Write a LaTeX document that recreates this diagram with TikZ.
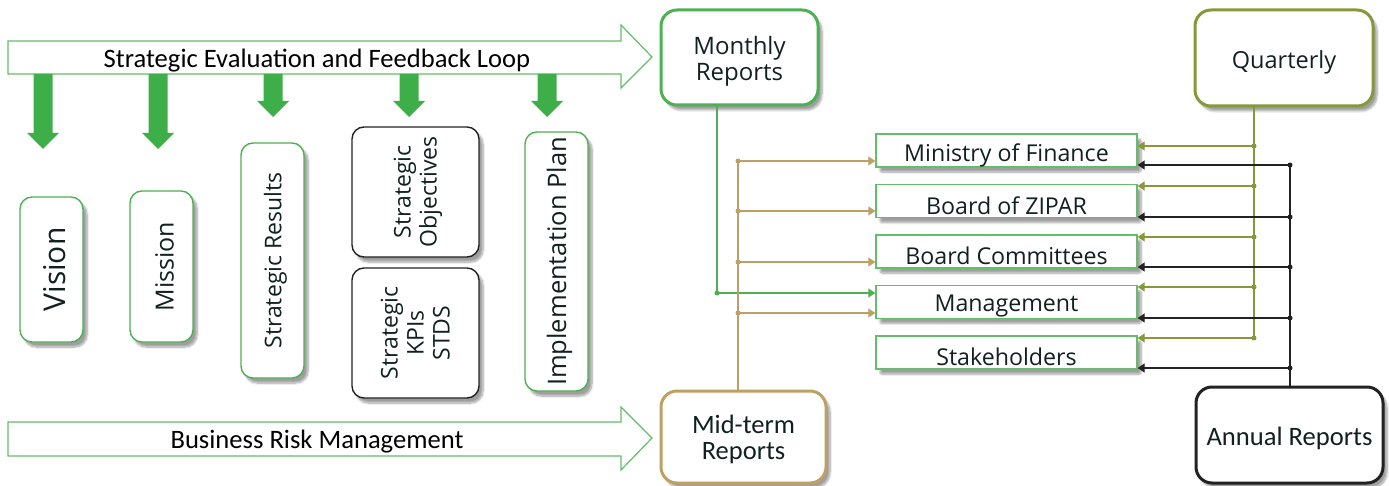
\documentclass[tikz,border=0pt]{standalone}
\usepackage{fontspec}
\setmainfont{Open Sans}
\newfontfamily\calfont{Carlito}
\usetikzlibrary{arrows.meta,shadows.blur}

\definecolor{boxgreen}{HTML}{4DB052}
\definecolor{lightgreen}{HTML}{62BE68}
\definecolor{arrgreen}{HTML}{3EAE49}
\definecolor{tanc}{HTML}{BFA064}
\definecolor{olivec}{HTML}{86993A}
\definecolor{inkc}{HTML}{222222}
\definecolor{textc}{HTML}{122020}

% shift a label down without changing the size it reports
\newcommand\dropby[2]{\raisebox{-#1}[\height][\depth]{#2}}
\newcommand\uplabel[1]{\rotatebox{90}{\dropby{3pt}{#1}}}

\tikzset{
  shade/.style={blur shadow={shadow xshift=4pt, shadow yshift=-5pt,
      shadow blur steps=8, shadow opacity=38, shadow blur extra rounding=2pt}},
  vbox/.style={draw=boxgreen, line width=1.4pt, fill=white, rounded corners=12pt,
      inner sep=0pt, text=textc, shade, font=\fontsize{23}{26}\selectfont},
  kbox/.style={vbox, draw=inkc},
  bigbox/.style={line width=3pt, fill=white, rounded corners=16pt, inner sep=0pt,
      text=textc, shade, font=\fontsize{23.5}{26}\selectfont},
  tbox/.style={draw=lightgreen, line width=1.4pt, fill=white, inner sep=0pt,
      minimum width=261pt, minimum height=33pt, text=textc, shade,
      font=\fontsize{23.2}{25}\selectfont},
  band/.style={draw=lightgreen, line width=1.2pt, fill=white},
  bandtext/.style={inner sep=0pt, text=black, font=\calfont\fontsize{26.6}{28}\selectfont},
  link/.style={line width=1.4pt},
  tip/.style={-{Triangle[length=7pt,width=9pt]}},
  dot/.style={circle, inner sep=0pt, minimum size=5pt},
}

\begin{document}
\begin{tikzpicture}[x=1pt,y=-1pt]
\useasboundingbox (0,0) rectangle (1389,486);

% two wide hollow arrows
\draw[band] (8,41) -- (621,41) -- (621,25) -- (652,57) -- (621,88) -- (621,74) -- (8,74) -- cycle;
\node[bandtext] (loop) at (317,58) {\dropby{3pt}{Strategic Evaluation and Feedback Loop}};
\draw[band] (8,422) -- (621,422) -- (621,407) -- (652,438) -- (621,470) -- (621,456) -- (8,456) -- cycle;
\node[bandtext] (risk) at (317,440) {\dropby{1.5pt}{Business Risk Management}};

% solid arrows pointing down from the feedback loop
\foreach \x/\t in {43/149,158/149,273/117,409/117,547/117}
  \fill[arrgreen] (\x-9.5,74) -- (\x+9.5,74) -- (\x+9.5,\t-16) -- (\x+16,\t-16)
     -- (\x,\t) -- (\x-16,\t-16) -- (\x-9.5,\t-16) -- cycle;

% strategy elements
\node[vbox, minimum width=63pt, minimum height=145pt, font=\fontsize{30}{32}\selectfont]
  (vision) at (51.5,269.5) {\uplabel{Vision}};
\node[vbox, minimum width=63pt, minimum height=151pt, font=\fontsize{25}{28}\selectfont]
  (mission) at (161.5,266.5) {\uplabel{Mission}};
\node[vbox, minimum width=63pt, minimum height=235pt]
  (results) at (272.5,260.5) {\uplabel{Strategic Results}};
\node[kbox, minimum width=127pt, minimum height=130pt]
  (objectives) at (415.5,192) {\uplabel{\begin{tabular}{@{}c@{}}Strategic\\Objectives\end{tabular}}};
\node[kbox, minimum width=127pt, minimum height=130pt]
  (kpis) at (415.5,333) {\uplabel{\begin{tabular}{@{}c@{}}Strategic\\KPIs\\STDS\end{tabular}}};
\node[vbox, minimum width=63pt, minimum height=259pt, font=\fontsize{25.5}{28}\selectfont]
  (plan) at (556.5,261.5) {\uplabel{Implementation Plan}};

% reporting cycles
\node[bigbox, draw=boxgreen, minimum width=157pt, minimum height=95pt, font=\fontsize{24}{26}\selectfont]
  (monthly) at (739.5,57.5) {\dropby{4.5pt}{\begin{tabular}{@{}c@{}}Monthly\\Reports\end{tabular}}};
\node[bigbox, draw=tanc, minimum width=165pt, minimum height=92pt, font=\calfont\fontsize{26.5}{26}\selectfont]
  (midterm) at (743.5,437) {\dropby{4pt}{\begin{tabular}{@{}c@{}}Mid-term\\Reports\end{tabular}}};
\node[bigbox, draw=olivec, minimum width=178pt, minimum height=96pt]
  (quarterly) at (1284,58) {\dropby{4.5pt}{Quarterly}};
\node[bigbox, draw=inkc, minimum width=187pt, minimum height=96pt, font=\calfont\fontsize{26.6}{27}\selectfont]
  (annual) at (1289.5,435) {\dropby{3pt}{Annual Reports}};

% audiences
\node[tbox] (mof)   at (1006.5,150.5) {\dropby{4.5pt}{Ministry of Finance}};
\node[tbox] (board) at (1006.5,201)   {\dropby{4.5pt}{Board of ZIPAR}};
\node[tbox] (comm)  at (1006.5,251.5) {\dropby{4.5pt}{Board Committees}};
\node[tbox] (mgmt)  at (1006.5,302)   {\dropby{4.5pt}{Management}};
\node[tbox] (stake) at (1006.5,352.5) {\dropby{4.5pt}{Stakeholders}};

% monthly reports go to management
\coordinate (g1) at (717,293);
\draw[link, boxgreen] (g1 |- monthly.south) -- (g1);
\draw[link, boxgreen, tip] (g1) -- (g1 -| mgmt.west);
\node[dot, fill=boxgreen] (gdot) at (g1) {};

% mid-term reports
\coordinate (t1) at (738,161);
\coordinate (t2) at (738,211);
\coordinate (t3) at (738,262);
\coordinate (t4) at (738,313);
\draw[link, tanc] (t1 |- midterm.north) -- (t1);
\foreach \c/\b in {t1/mof,t2/board,t3/comm,t4/mgmt}{
  \draw[link, tanc, tip] (\c) -- (\c -| \b.west);
  \node[dot, fill=tanc] at (\c) {};
}

% quarterly reports
\coordinate (q1) at (1254,146);
\coordinate (q2) at (1254,186);
\coordinate (q3) at (1254,237);
\coordinate (q4) at (1254,287);
\coordinate (q5) at (1254,338);
\draw[link, olivec] (q1 |- quarterly.south) -- (q5);
\foreach \c/\b in {q1/mof,q2/board,q3/comm,q4/mgmt,q5/stake}{
  \draw[link, olivec, tip] (\c) -- (\c -| \b.east);
  \node[dot, fill=olivec] at (\c) {};
}

% annual reports
\coordinate (a1) at (1290,165);
\coordinate (a2) at (1290,217);
\coordinate (a3) at (1290,267);
\coordinate (a4) at (1290,318);
\coordinate (a5) at (1290,368);
\draw[link, inkc] (a5 |- annual.north) -- (a1);
\foreach \c/\b in {a1/mof,a2/board,a3/comm,a4/mgmt,a5/stake}{
  \draw[link, inkc, tip] (\c) -- (\c -| \b.east);
  \node[dot, fill=inkc] at (\c) {};
}
\end{tikzpicture}
\end{document}
